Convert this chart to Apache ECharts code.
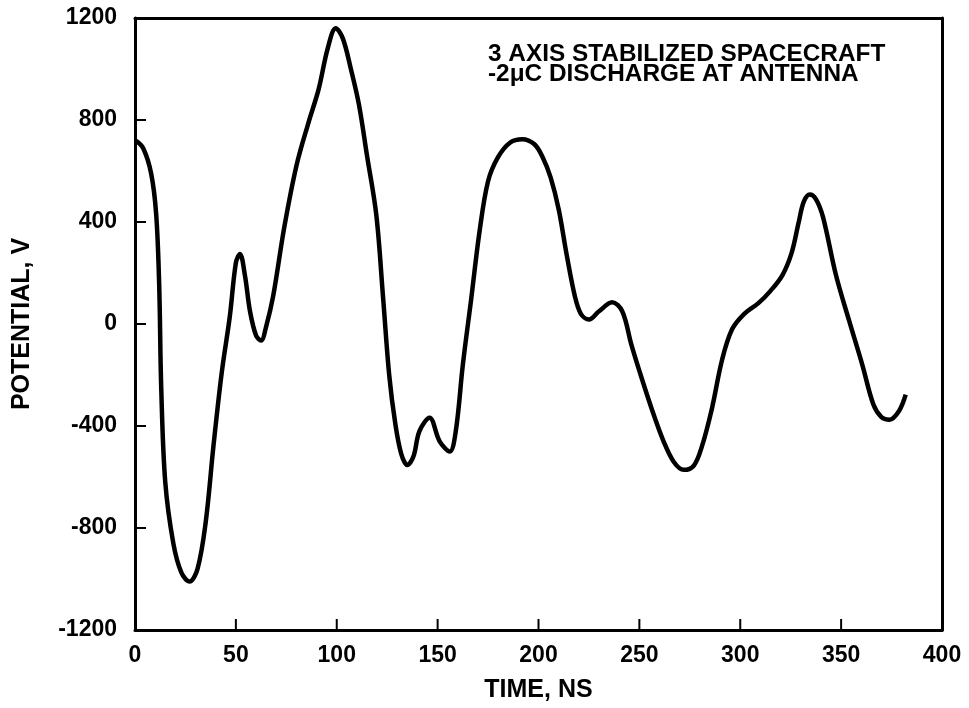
<html>
<head>
<meta charset="utf-8">
<script type="text/javascript" src="https://cdn.jsdelivr.net/npm/echarts@6/dist/echarts.min.js"></script>
</head>
<body style="margin:0;background:#fff;">
	<div id="chart" style="width: 969px; height: 708px;"></div>
	<script type="text/javascript">
		// values (time in ns, potential in V)
		var timeNs = [0, 4, 8, 10.5, 12, 13, 15, 19, 23, 27, 31, 35, 39, 43, 47, 50, 52, 54.5, 57, 60, 62.5, 65, 68.5, 74, 80, 86, 91, 95.5, 99.5, 103, 107, 111, 115, 119.6, 123, 126, 129, 132, 135, 138, 141, 146, 151, 156, 159, 162.5, 166.7, 170.8, 175, 180, 186, 192, 198, 202, 206, 210, 214, 218, 221, 225, 230, 236.5, 241.5, 246, 250, 256, 262, 267, 272, 277, 281, 286, 291, 296, 302, 309, 315, 321, 325.5, 329, 331.5, 334.5, 337.5, 341, 347.4, 354, 360.5, 366, 370, 374, 378.7, 382];
		var potentialV = [721, 690, 590, 430, 150, -250, -620, -860, -975, -1010, -960, -780, -470, -190, 30, 240, 275, 190, 50, -45, -65, -10, 110, 380, 620, 790, 920, 1080, 1160, 1120, 1000, 860, 660, 428, 100, -200, -390, -510, -553, -520, -420, -368, -460, -500, -420, -160, 102, 364, 560, 655, 712, 725, 705, 655, 575, 450, 270, 110, 40, 18, 50, 85, 50, -80, -184, -330, -460, -540, -572, -555, -480, -330, -140, -20, 40, 82, 130, 193, 280, 400, 480, 508, 490, 420, 193, 12, -160, -316, -365, -375, -341, -277];
		var yTicks = [-1200, -800, -400, 0, 400, 800, 1200];
		var xTicks = [0, 50, 100, 150, 200, 250, 300, 350, 400];
		var noteLines = ['3 AXIS STABILIZED SPACECRAFT', '-2\u03bcC DISCHARGE AT ANTENNA'];

		var points = timeNs.map(function(t, i) {
			return [t, potentialV[i]];
		});
		var xMin = xTicks[0], xMax = xTicks[xTicks.length - 1];
		var yMin = yTicks[0], yMax = yTicks[yTicks.length - 1];
		var tickLen = 11;

		var labelFont = 'Liberation Sans, Arial, sans-serif';
		var frameLine = { show : true, onZero : false, lineStyle : { color : '#000', width : 3 } };
		var boldLabel = function(margin) {
			return {
				margin : margin,
				fontFamily : labelFont,
				fontWeight : 'bold',
				fontSize : 23,
				color : '#000',
				formatter : function(v) { return String(v); }
			};
		};
		var nameStyle = {
			fontFamily : labelFont,
			fontWeight : 'bold',
			fontSize : 25,
			color : '#000'
		};
		function frameAxis(pos, lo, hi) {
			return {
				type : 'value',
				position : pos,
				min : lo,
				max : hi,
				axisLine : frameLine,
				axisTick : { show : false },
				axisLabel : { show : false },
				splitLine : { show : false }
			};
		}

		var noteText = {
			type : 'text',
			id : 'note',
			left : 488,
			top : 43,
			scaleX : 1.06,
			z : 10,
			style : {
				text : noteLines.join('\n'),
				font : 'bold 23px ' + labelFont,
				lineHeight : 20,
				fill : '#000'
			}
		};

		var myChart = echarts.init(document.getElementById('chart'));
		var option = {
			animation : false,
			backgroundColor : '#fff',
			graphic : [ noteText ],
			grid : {
				left : 135,
				right : 27,
				top : 18,
				bottom : 78
			},
			xAxis : [ {
				type : 'value',
				position : 'bottom',
				min : xMin,
				max : xMax,
				interval : 50,
				name : 'TIME, NS',
				nameLocation : 'middle',
				nameGap : 48,
				nameTextStyle : nameStyle,
				axisLine : frameLine,
				axisTick : { show : false },
				axisLabel : boldLabel(14),
				splitLine : { show : false }
			}, frameAxis('top', xMin, xMax) ],
			yAxis : [ {
				type : 'value',
				position : 'left',
				min : yMin,
				max : yMax,
				interval : 400,
				name : 'POTENTIAL, V',
				nameLocation : 'middle',
				nameGap : 100,
				nameTextStyle : nameStyle,
				axisLine : frameLine,
				axisTick : { show : false },
				axisLabel : boldLabel(18),
				splitLine : { show : false }
			}, frameAxis('right', yMin, yMax) ],
			series : [ {
				type : 'line',
				data : points,
				smooth : 0.35,
				showSymbol : false,
				lineStyle : { color : '#000', width : 4.5 }
			} ]
		};
		myChart.setOption(option);

		// inward tick marks, positioned with the chart's own scales
		var tickMarks = [];
		xTicks.slice(1, -1).forEach(function(v) {
			var p = myChart.convertToPixel({ gridIndex : 0 }, [v, yMin]);
			tickMarks.push({
				type : 'line',
				z : 20,
				shape : { x1 : p[0], y1 : p[1], x2 : p[0], y2 : p[1] - tickLen },
				style : { stroke : '#000', lineWidth : 2 }
			});
		});
		yTicks.slice(1, -1).forEach(function(v) {
			var p = myChart.convertToPixel({ gridIndex : 0 }, [xMin, v]);
			tickMarks.push({
				type : 'line',
				z : 20,
				shape : { x1 : p[0], y1 : p[1], x2 : p[0] + tickLen, y2 : p[1] },
				style : { stroke : '#000', lineWidth : 2 }
			});
		});
		myChart.setOption({ graphic : [ noteText ].concat(tickMarks) }, { replaceMerge : [ 'graphic' ] });
	</script>
</body>
</html>
